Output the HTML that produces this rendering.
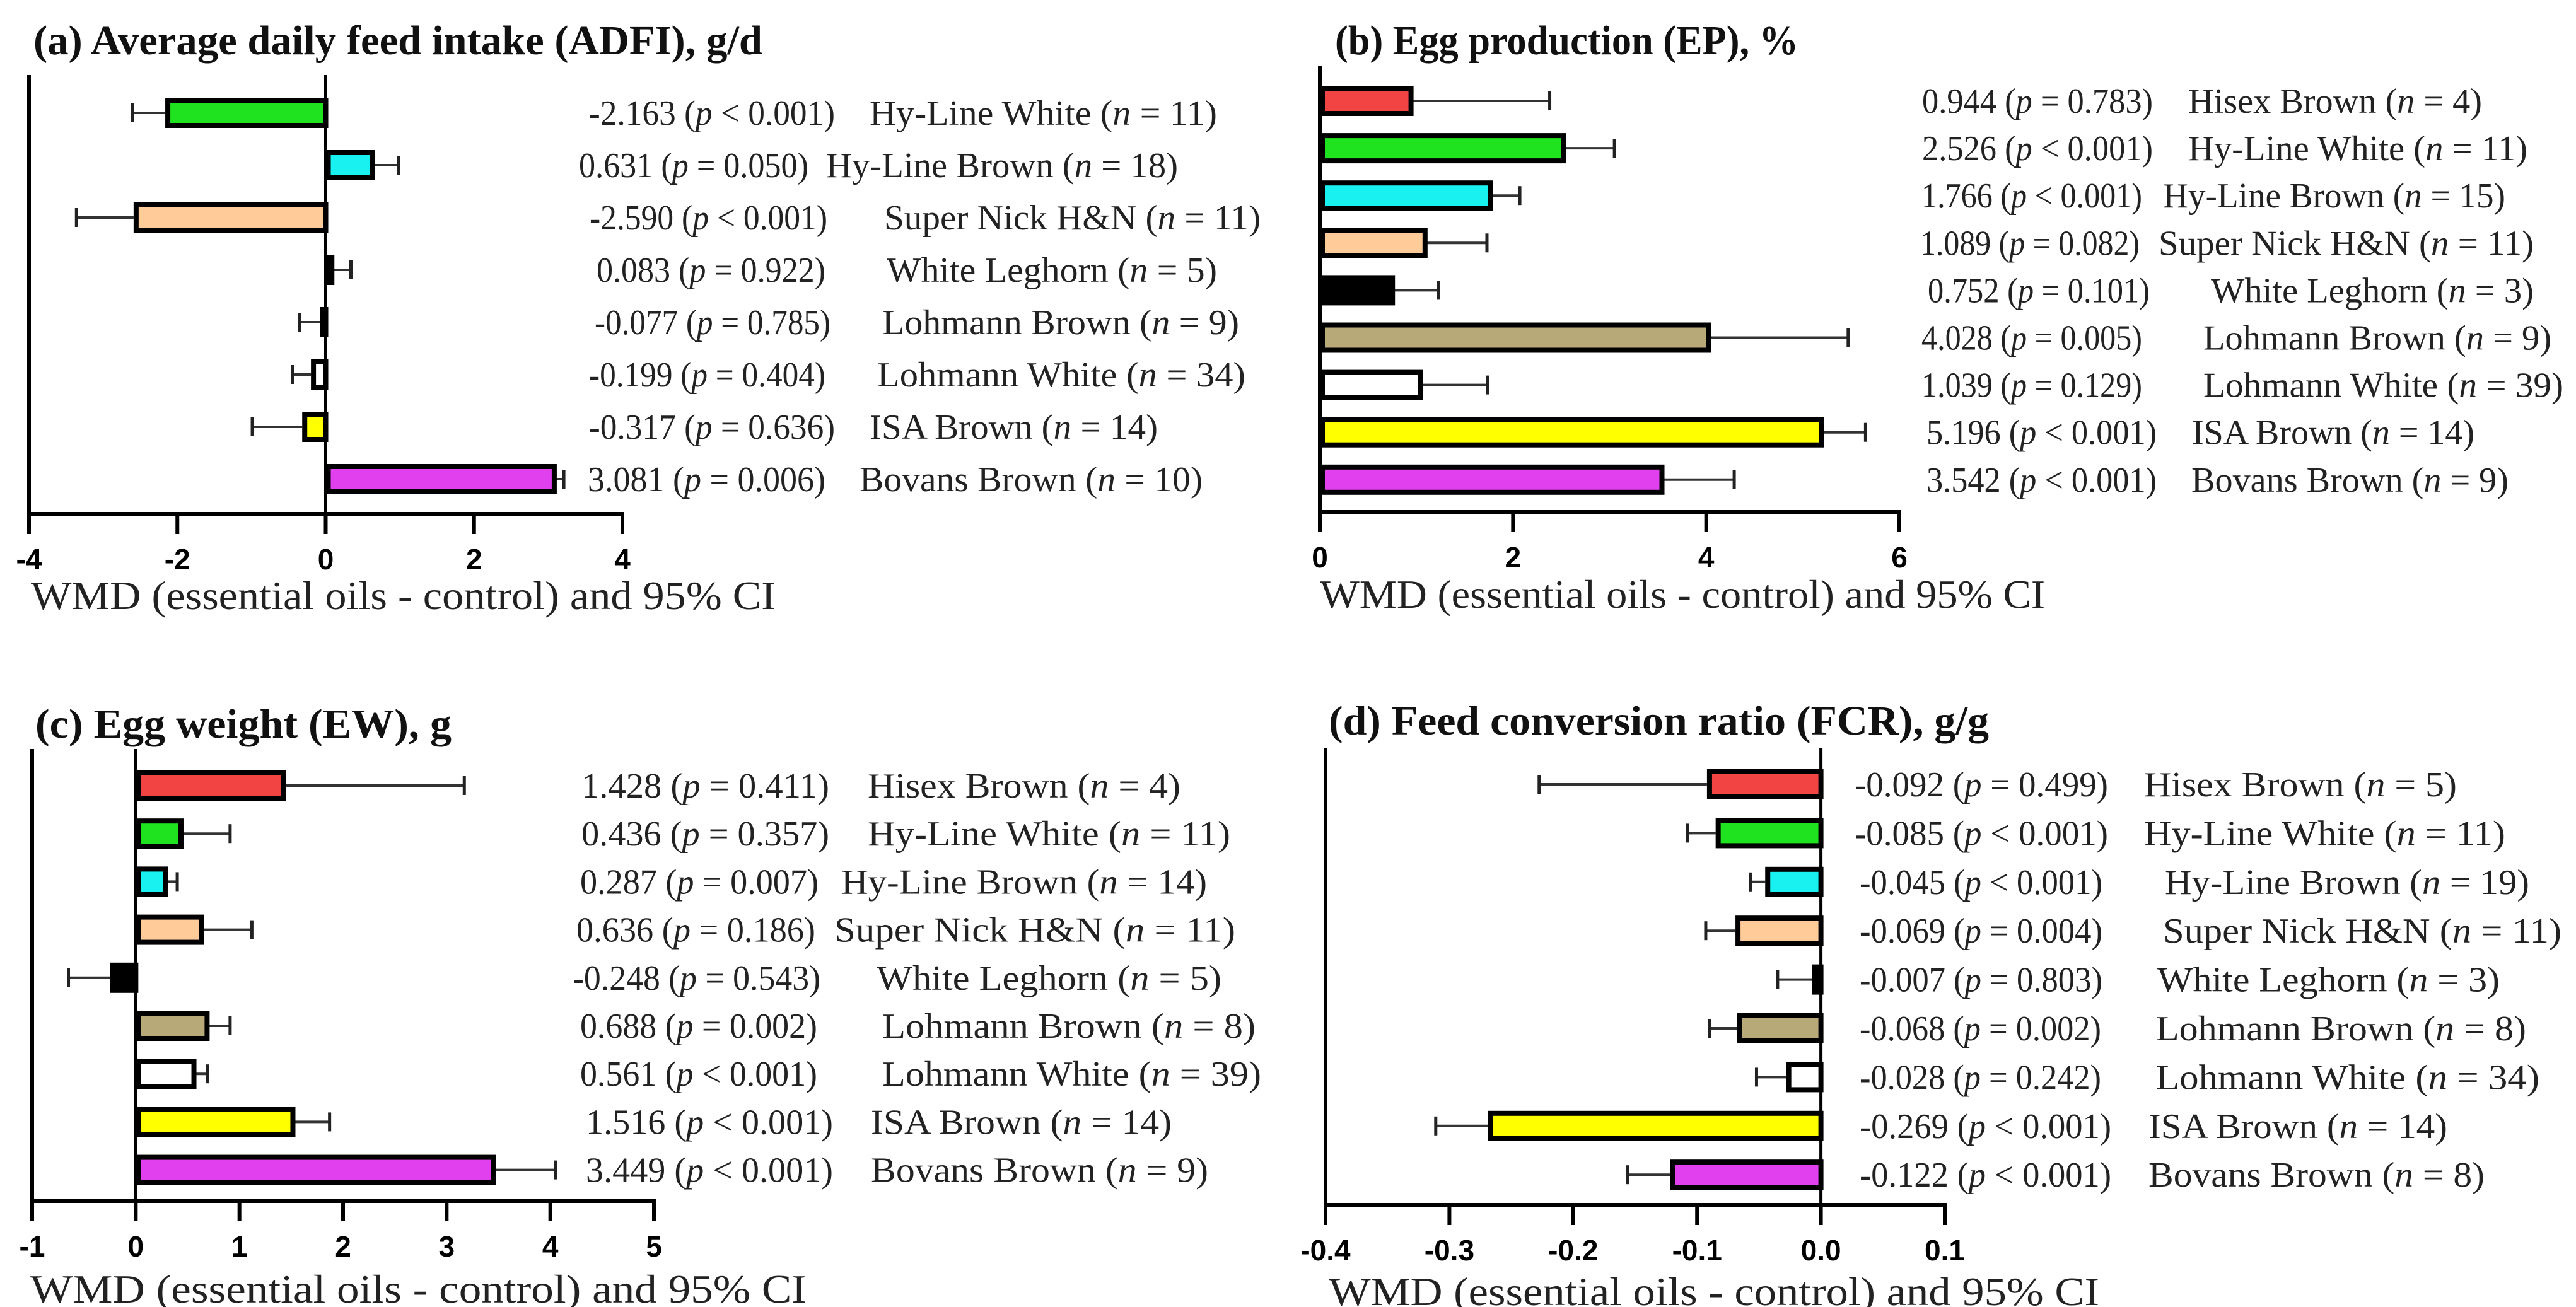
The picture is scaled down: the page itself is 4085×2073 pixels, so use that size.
<!DOCTYPE html>
<html><head><meta charset="utf-8"><style>
html,body{margin:0;padding:0;background:#fff;}
svg{display:block;}
</style></head><body>
<svg id="fig" width="4085" height="2073" viewBox="0 0 4085 2073" xmlns="http://www.w3.org/2000/svg">
<rect x="0" y="0" width="4085" height="2073" fill="#fff"/>
</svg>
<script>
// ----- Panel (a) ADFI -----
const aBreeds = ["Hy-Line White","Hy-Line Brown","Super Nick H&N","White Leghorn","Lohmann Brown","Lohmann White","ISA Brown","Bovans Brown"];
const aValues = [-2.163,0.631,-2.590,0.083,-0.077,-0.199,-0.317,3.081];
const aCI = [-2.61,0.98,-3.36,0.34,-0.35,-0.45,-0.99,3.21];
const aP = ["< 0.001","= 0.050","< 0.001","= 0.922","= 0.785","= 0.404","= 0.636","= 0.006"];
const aN = [11,18,11,5,9,34,14,10];
const aTicks = [-4,-2,0,2,4];
const aTickLabels = ["-4","-2","0","2","4"];
const aColors = ["#1fe31f","#19f0f0","#ffcc99","#000000","#b8aa78","#ffffff","#ffff00","#e040ee"];
// ----- Panel (b) EP -----
const bBreeds = ["Hisex Brown","Hy-Line White","Hy-Line Brown","Super Nick H&N","White Leghorn","Lohmann Brown","Lohmann White","ISA Brown","Bovans Brown"];
const bValues = [0.944,2.526,1.766,1.089,0.752,4.028,1.039,5.196,3.542];
const bCI = [2.38,3.05,2.07,1.73,1.23,5.47,1.74,5.65,4.29];
const bP = ["= 0.783","< 0.001","< 0.001","= 0.082","= 0.101","= 0.005","= 0.129","< 0.001","< 0.001"];
const bN = [4,11,15,11,3,9,39,14,9];
const bTicks = [0,2,4,6];
const bTickLabels = ["0","2","4","6"];
// ----- Panel (c) EW -----
const cBreeds = bBreeds.slice();
const cValues = [1.428,0.436,0.287,0.636,-0.248,0.688,0.561,1.516,3.449];
const cCI = [3.17,0.91,0.40,1.12,-0.65,0.91,0.69,1.87,4.05];
const cP = ["= 0.411","= 0.357","= 0.007","= 0.186","= 0.543","= 0.002","< 0.001","< 0.001","< 0.001"];
const cN = [4,11,14,11,5,8,39,14,9];
const cTicks = [-1,0,1,2,3,4,5];
const cTickLabels = ["-1","0","1","2","3","4","5"];
// ----- Panel (d) FCR -----
const dBreeds = bBreeds.slice();
const dValues = [-0.092,-0.085,-0.045,-0.069,-0.007,-0.068,-0.028,-0.269,-0.122];
const dCI = [-0.2275,-0.108,-0.057,-0.093,-0.035,-0.090,-0.052,-0.311,-0.156];
const dP = ["= 0.499","< 0.001","< 0.001","= 0.004","= 0.803","= 0.002","= 0.242","< 0.001","< 0.001"];
const dN = [5,11,19,11,3,8,34,14,8];
const dTicks = [-0.4,-0.3,-0.2,-0.1,0.0,0.1];
const dTickLabels = ["-0.4","-0.3","-0.2","-0.1","0.0","0.1"];
const bcdColors = ["#f34444","#1fe31f","#19f0f0","#ffcc99","#000000","#b8aa78","#ffffff","#ffff00","#e040ee"];

const NS = "http://www.w3.org/2000/svg";
const svg = document.getElementById("fig");
function mk(tag, attrs, parent){
  const e = document.createElementNS(NS, tag);
  for (const k in attrs) e.setAttribute(k, attrs[k]);
  (parent||svg).appendChild(e);
  return e;
}

function drawPanel(cfg){
  const g = mk("g", {});
  
  
  const xs = v => cfg.x0 + (v - cfg.d0) / (cfg.d1 - cfg.d0) * (cfg.x1 - cfg.x0);
  const ys = i => cfg.row0 + i * cfg.rowStep;
  // title
  const t = mk("text", {x: cfg.titleX, y: cfg.titleY, "font-family": "Liberation Serif, serif", "font-weight": "bold", "font-size": 66, fill: "#111", textLength: cfg.titleW, lengthAdjust: "spacingAndGlyphs"}, g);
  t.textContent = cfg.title;
  
  
  // bars + error bars
  cfg.values.forEach((v, i) => {
    const cy = ys(i);
    const h = 48, sw = 8;
    const xz = xs(0), xv = xs(v), xc = xs(cfg.ci[i]);
    const el = mk("line", {x1: xv, y1: cy, x2: xc, y2: cy, stroke: "#333", "stroke-width": 4}, g);
    
    
    const cap = mk("line", {x1: xc, y1: cy - 15, x2: xc, y2: cy + 15, stroke: "#222", "stroke-width": 5}, g);
    
    
    const left = Math.min(xz, xv), w = Math.abs(xv - xz);
    const r = mk("rect", {x: left + sw/2, y: cy - h/2 + sw/2, width: Math.max(w - sw/2, 1), height: h - sw, fill: cfg.colors[i], stroke: "#000", "stroke-width": sw}, g);
    
    
    // label groups
    const tb = cy + 19;
    const l1 = mk("text", {x: cfg.lab[0][i], y: tb, "font-family": "Liberation Serif, serif", "font-size": 56, fill: "#222", textLength: cfg.lab[1][i] - cfg.lab[0][i], lengthAdjust: "spacingAndGlyphs"}, g);
    
    
    l1.appendChild(document.createTextNode(v.toFixed(3) + " ("));
    const ip = mk("tspan", {"font-style": "italic"}, l1); ip.textContent = "p";
    l1.appendChild(document.createTextNode(" " + cfg.p[i] + ")"));
    const l2 = mk("text", {x: cfg.lab[2][i], y: tb, "font-family": "Liberation Serif, serif", "font-size": 56, fill: "#222", textLength: cfg.lab[3][i] - cfg.lab[2][i], lengthAdjust: "spacingAndGlyphs"}, g);
    
    
    l2.appendChild(document.createTextNode(cfg.breeds[i] + "  ("));
    const inn = mk("tspan", {"font-style": "italic"}, l2); inn.textContent = "n";
    l2.appendChild(document.createTextNode(" = " + cfg.n[i] + ")"));
  });
  // axes
  const ax = mk("line", {x1: cfg.x0 - 3, y1: cfg.axisY, x2: cfg.x1 + 3, y2: cfg.axisY, stroke: "#000", "stroke-width": 6}, g);
  
  
  const ya = mk("line", {x1: cfg.x0, y1: cfg.topY, x2: cfg.x0, y2: cfg.axisY, stroke: "#000", "stroke-width": 6}, g);
  
  
  if (cfg.d0 < 0) {
    const z = mk("line", {x1: xs(0), y1: cfg.topY, x2: xs(0), y2: cfg.axisY, stroke: "#000", "stroke-width": 5}, g);
    
    
  }
  cfg.ticks.forEach((tv, k) => {
    const x = xs(tv);
    const tk = mk("line", {x1: x, y1: cfg.axisY, x2: x, y2: cfg.axisY + 32, stroke: "#000", "stroke-width": 6}, g);
    
    
    const tl = mk("text", {x: x, y: cfg.axisY + 88, "text-anchor": "middle", "font-family": "Liberation Sans, sans-serif", "font-weight": "bold", "font-size": 46, fill: "#000"}, g);
    tl.textContent = cfg.tickLabels[k];
    
    
  });
  const at = mk("text", {x: cfg.atX, y: cfg.atY, "font-family": "Liberation Serif, serif", "font-size": 64, fill: "#222", textLength: cfg.atW, lengthAdjust: "spacingAndGlyphs"}, g);
  at.textContent = "WMD (essential oils - control) and 95% CI";
  
  
}

drawPanel({name: "panel-a-adfi", title: "(a) Average daily feed intake (ADFI), g/d", titleX: 53, titleY: 86, titleW: 1156,
  x0: 46, x1: 987, d0: -4, d1: 4, row0: 179, rowStep: 83, axisY: 815, topY: 119,
  values: aValues, ci: aCI, p: aP, n: aN, breeds: aBreeds, colors: aColors, ticks: aTicks, tickLabels: aTickLabels,
  lab: [[934,918,935,946,943,934,934,932],[1324,1282,1312,1309,1317,1309,1324,1309],[1379,1310,1402,1406,1399,1391,1379,1363],[1930,1868,1999,1930,1965,1975,1836,1907]],
  atX: 49, atY: 966, atW: 1181});
drawPanel({name: "panel-b-ep", title: "(b) Egg production (EP), %", titleX: 2117, titleY: 86, titleW: 735,
  x0: 2093, x1: 3012, d0: 0, d1: 6, row0: 160, rowStep: 75.1, axisY: 812, topY: 104,
  values: bValues, ci: bCI, p: bP, n: bN, breeds: bBreeds, colors: bcdColors, ticks: bTicks, tickLabels: bTickLabels,
  lab: [[3048,3048,3047,3045,3057,3047,3047,3055,3055],[3414,3414,3397,3393,3409,3397,3397,3420,3420],[3470,3470,3430,3423,3506,3494,3494,3476,3475],[3936,4008,3973,4018,4018,4046,4065,3924,3978]],
  atX: 2093, atY: 964, atW: 1150});
drawPanel({name: "panel-c-ew", title: "(c) Egg weight (EW), g", titleX: 56, titleY: 1170, titleW: 660,
  x0: 51, x1: 1037, d0: -1, d1: 5, row0: 1246, rowStep: 76.2, axisY: 1905, topY: 1188,
  values: cValues, ci: cCI, p: cP, n: cN, breeds: cBreeds, colors: bcdColors, ticks: cTicks, tickLabels: cTickLabels,
  lab: [[922,922,920,914,908,920,920,929,929],[1315,1315,1298,1293,1301,1296,1296,1321,1321],[1376,1376,1334,1323,1390,1399,1399,1381,1381],[1872,1951,1914,1959,1937,1991,2000,1858,1916]],
  atX: 48, atY: 2066, atW: 1231});
drawPanel({name: "panel-d-fcr", title: "(d) Feed conversion ratio (FCR), g/g", titleX: 2107, titleY: 1165, titleW: 1047,
  x0: 2102, x1: 3084, d0: -0.4, d1: 0.1, row0: 1244, rowStep: 77.4, axisY: 1911, topY: 1187,
  values: dValues, ci: dCI, p: dP, n: dN, breeds: dBreeds, colors: bcdColors, ticks: dTicks, tickLabels: dTickLabels,
  lab: [[2941,2941,2949,2949,2949,2949,2949,2949,2949],[3343,3343,3334,3334,3334,3332,3332,3348,3348],[3400,3400,3433,3430,3421,3419,3419,3407,3407],[3896,3973,4011,4062,3964,4006,4027,3881,3940]],
  atX: 2107, atY: 2070, atW: 1222});
</script>
</body></html>
